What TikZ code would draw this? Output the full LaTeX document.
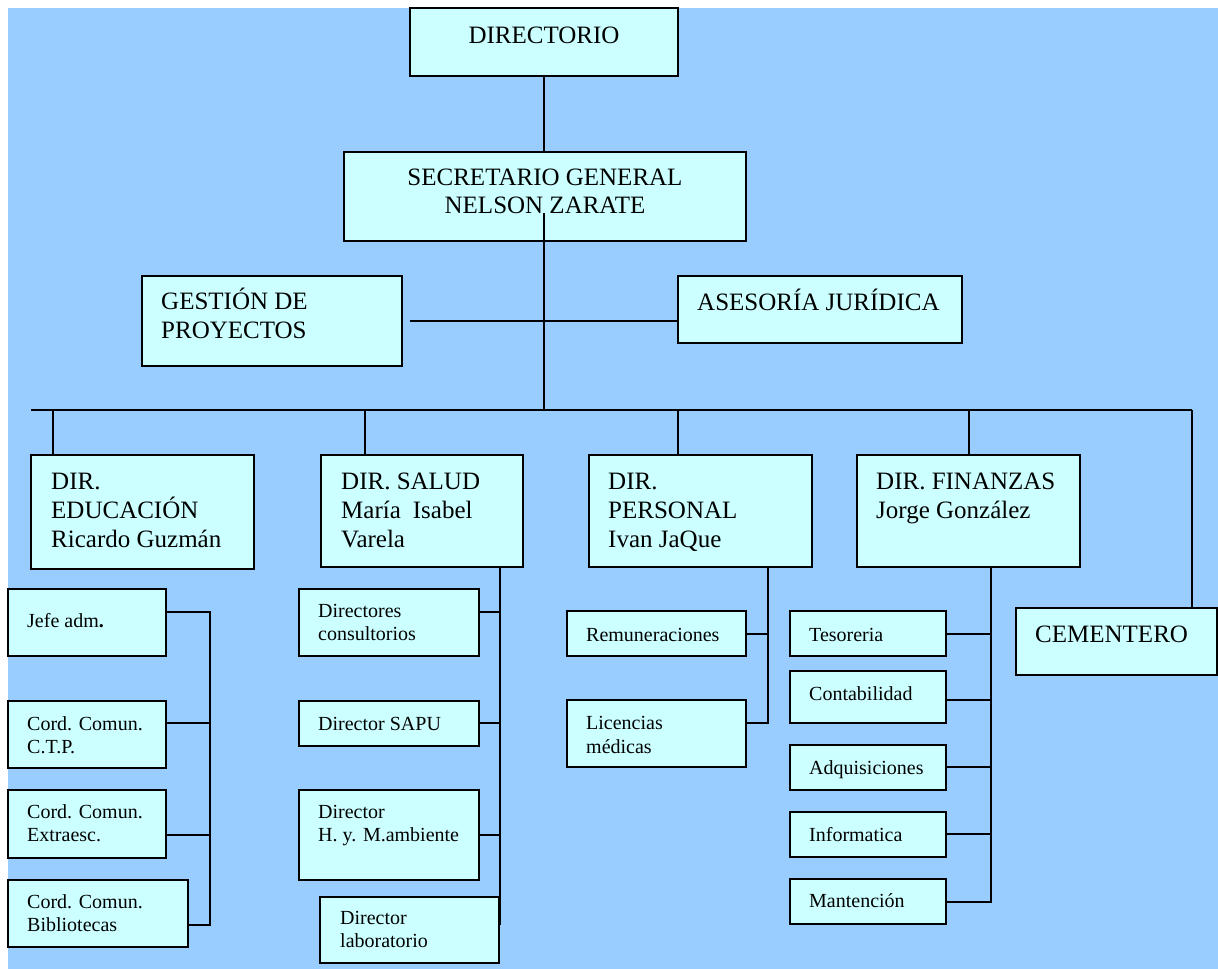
\documentclass[tikz,border=0pt]{standalone}
\usepackage{fontspec}
\setmainfont{Liberation Serif}
\definecolor{bgc}{HTML}{99CCFF}
\definecolor{boxc}{HTML}{CCFFFF}
\newcommand{\obox}[5]{\node[obx, minimum width=#4-#2, minimum height=#5-#3] (#1) at (#2,#3) {};}
\tikzset{
  obx/.style={draw=black, line width=1.8pt, fill=boxc, rectangle, inner sep=0pt, outer sep=0pt, anchor=north west},
  bt/.style={font=\fontsize{25}{29}\selectfont, align=left, inner sep=0pt, anchor=base west},
  btc/.style={font=\fontsize{25}{28}\selectfont, align=center, inner sep=0pt, anchor=base},
  st/.style={font=\fontsize{20}{23.5}\selectfont, align=left, inner sep=0pt, anchor=base west},
  ln/.style={draw=black, line width=1.8pt}
}
\begin{document}
\begin{tikzpicture}[x=1pt,y=-1pt]
\useasboundingbox (0,0) rectangle (1218,969);
\fill[bgc] (8,8) rectangle (1218,969);
% boxes
\obox{dir}{410}{8}{678}{76}
\obox{sec}{344}{152}{746}{241}
\obox{ges}{142}{276}{402}{366}
\obox{ase}{678}{276}{962}{343}
\obox{edu}{31}{455}{254}{569}
\obox{sal}{321}{455}{523}{567}
\obox{per}{589}{455}{812}{567}
\obox{fin}{857}{455}{1080}{567}
\obox{cem}{1016}{608}{1217}{675}
\obox{jefe}{8}{589}{166}{656}
\obox{cordA}{8}{701}{166}{768}
\obox{cordB}{8}{790}{166}{858}
\obox{cordC}{8}{880}{188}{947}
\obox{dcons}{299}{589}{479}{656}
\obox{sapu}{299}{701}{479}{746}
\obox{hym}{299}{790}{479}{880}
\obox{lab}{320}{897}{499}{963}
\obox{rem}{567}{611}{746}{656}
\obox{lic}{567}{700}{746}{767}
\obox{tes}{790}{611}{946}{656}
\obox{con}{790}{671}{946}{723}
\obox{adq}{790}{745}{946}{790}
\obox{inf}{790}{812}{946}{857}
\obox{man}{790}{879}{946}{924}
% texts (base anchor = baseline of last line)
\node[btc] (dir-t) at ([shift={(134,35)}]dir.north west) {DIRECTORIO};
\node[btc] (sec-t) at ([shift={(201,61)}]sec.north west) {SECRETARIO GENERAL\\NELSON ZARATE};
\node[bt] (ges-t) at ([shift={(19,62)}]ges.north west) {GESTIÓN DE\\PROYECTOS};
\node[bt] (ase-t) at ([shift={(19,34)}]ase.north west) {ASESORÍA JURÍDICA};
\node[bt] (edu-t) at ([shift={(20,92)}]edu.north west) {DIR.\\EDUCACIÓN\\Ricardo Guzmán};
\node[bt] (sal-t) at ([shift={(20,92)}]sal.north west) {DIR. SALUD\\María\hspace{12pt}Isabel\\Varela};
\node[bt] (per-t) at ([shift={(19,92)}]per.north west) {DIR.\\PERSONAL\\Ivan JaQue};
\node[bt] (fin-t) at ([shift={(19,63)}]fin.north west) {DIR. FINANZAS\\Jorge González};
\node[bt] (cem-t) at ([shift={(19,34)}]cem.north west) {CEMENTERO};
\node[st] (jefe-t) at ([shift={(19,38)}]jefe.north west) {Jefe adm\textbf{.}};
\node[st] (cordA-t) at ([shift={(19,52.5)}]cordA.north west) {Cord. Comun.\\C.T.P.};
\node[st] (cordB-t) at ([shift={(19,51.5)}]cordB.north west) {Cord. Comun.\\Extraesc.};
\node[st] (cordC-t) at ([shift={(19,51.5)}]cordC.north west) {Cord. Comun.\\Bibliotecas};
\node[st] (dcons-t) at ([shift={(19,51.5)}]dcons.north west) {Directores\\consultorios};
\node[st] (sapu-t) at ([shift={(19,29)}]sapu.north west) {Director SAPU};
\node[st] (hym-t) at ([shift={(19,51.5)}]hym.north west) {Director\\H. y. M.ambiente};
\node[st] (lab-t) at ([shift={(20,50.5)}]lab.north west) {Director\\laboratorio};
\node[st] (rem-t) at ([shift={(19,30)}]rem.north west) {Remuneraciones};
\node[st] (lic-t) at ([shift={(19,53)}]lic.north west) {Licencias\\médicas};
\node[st] (tes-t) at ([shift={(19,30)}]tes.north west) {Tesoreria};
\node[st] (con-t) at ([shift={(19,29)}]con.north west) {Contabilidad};
\node[st] (adq-t) at ([shift={(19,29)}]adq.north west) {Adquisiciones};
\node[st] (inf-t) at ([shift={(19,29)}]inf.north west) {Informatica};
\node[st] (man-t) at ([shift={(19,28)}]man.north west) {Mantención};
% connectors: top
\draw[ln] (dir.south) -- (dir.south |- sec.north);
\coordinate (sp) at (544,213);
\coordinate (bus) at (544,410);
\draw[ln] (sp) -- (bus);
\coordinate (g0) at (410,321);
\draw[ln] (g0) -- (g0 -| ase.west);
\coordinate (busL) at (31,410);
\coordinate (busR) at (1192,410);
\draw[ln] (busL) -- (busR);
\coordinate (d1) at (53,410);
\coordinate (d2) at (365,410);
\coordinate (d3) at (678,410);
\coordinate (d4) at (969,410);
\draw[ln] (d1) -- (d1 |- edu.north);
\draw[ln] (d2) -- (d2 |- sal.north);
\draw[ln] (d3) -- (d3 |- per.north);
\draw[ln] (d4) -- (d4 |- fin.north);
\draw[ln] (busR) -- (busR |- cem.north);
% education
\coordinate (e1) at (210,612);
\coordinate (e2) at (210,723);
\coordinate (e3) at (210,835);
\coordinate (e4) at (210,925);
\draw[ln] (e1 -| jefe.east) -- (e1) -- (e4) -- (e4 -| cordC.east);
\draw[ln] (e2 -| cordA.east) -- (e2);
\draw[ln] (e3 -| cordB.east) -- (e3);
% salud
\coordinate (s1) at (500,612);
\coordinate (s2) at (500,723);
\coordinate (s3) at (500,835);
\coordinate (s4) at (500,925);
\draw[ln] (s1 |- sal.south) -- (s4);
\draw[ln] (s1 -| dcons.east) -- (s1);
\draw[ln] (s2 -| sapu.east) -- (s2);
\draw[ln] (s3 -| hym.east) -- (s3);
% personal
\coordinate (p1) at (768,634);
\coordinate (p2) at (768,723);
\draw[ln] (p1 |- per.south) -- (p2) -- (p2 -| lic.east);
\draw[ln] (p1 -| rem.east) -- (p1);
% finanzas
\coordinate (f1) at (991,634);
\coordinate (f2) at (991,700);
\coordinate (f3) at (991,767);
\coordinate (f4) at (991,834);
\coordinate (f5) at (991,902);
\draw[ln] (f1 |- fin.south) -- (f5) -- (f5 -| man.east);
\draw[ln] (f1 -| tes.east) -- (f1);
\draw[ln] (f2 -| con.east) -- (f2);
\draw[ln] (f3 -| adq.east) -- (f3);
\draw[ln] (f4 -| inf.east) -- (f4);
\end{tikzpicture}
\end{document}
